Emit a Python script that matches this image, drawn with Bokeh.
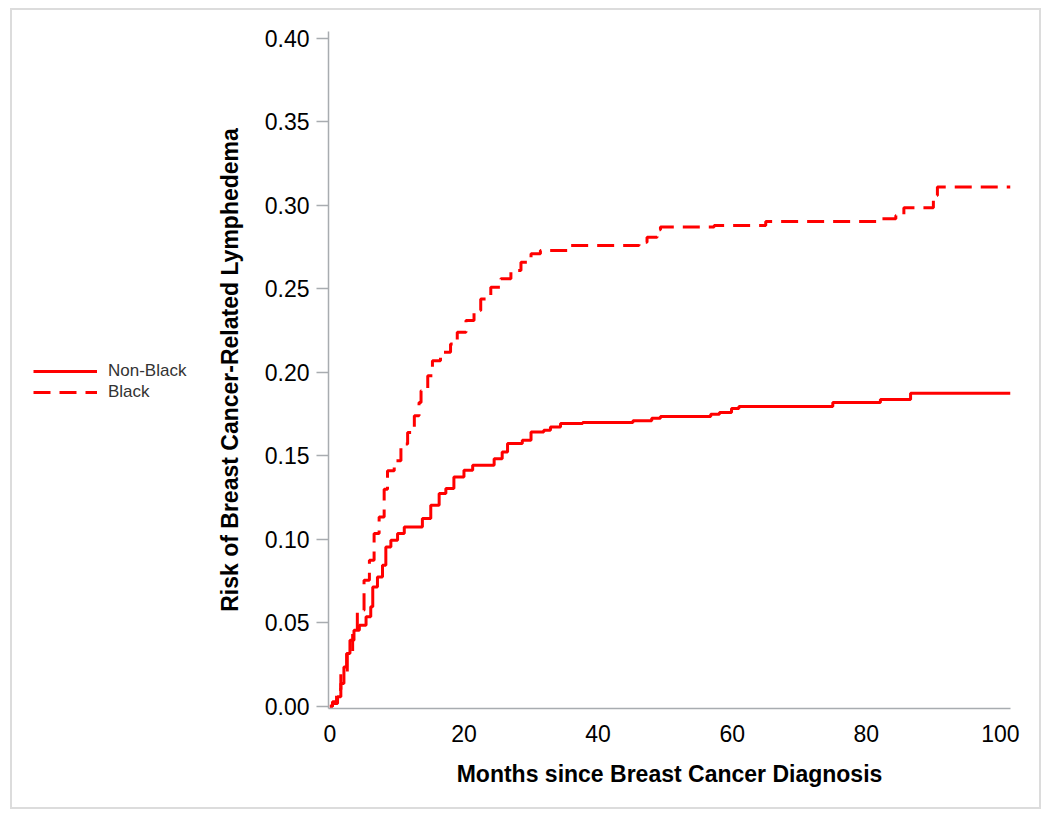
from bokeh.plotting import figure
from bokeh.layouts import row
from bokeh.models import Range1d, FixedTicker, NumeralTickFormatter, Legend, LegendItem
from bokeh.embed import file_html
from bokeh.resources import INLINE

# Cumulative risk of breast cancer-related lymphedema (step functions)
nonblack_months = [0, 0.4, 1.15, 1.64, 2.1, 2.5, 3.0, 3.6, 4.4, 5.4, 6.1, 6.4, 7.1, 7.85, 8.35,
                   9.1, 10.1, 11.1, 13.8, 15.05, 16.3, 17.3, 18.5, 20.0, 21.3, 24.5, 25.7, 26.5,
                   28.7, 30.0, 31.9, 32.9, 34.4, 37.7, 45.2, 48.0, 49.3, 56.8, 58.1, 59.9, 61.0,
                   75.0, 82.1, 86.6, 101.5]
nonblack_risk = [0, 0.0016, 0.0056, 0.0136, 0.0235, 0.0315, 0.0395, 0.0455, 0.0485, 0.0535,
                 0.0595, 0.0714, 0.0774, 0.0844, 0.0954, 0.0994, 0.1034, 0.1074, 0.1124, 0.1204,
                 0.1274, 0.1304, 0.1373, 0.1413, 0.1443, 0.1483, 0.1523, 0.1573, 0.1593, 0.1643,
                 0.1653, 0.1673, 0.1693, 0.1699, 0.171, 0.1725, 0.1735, 0.1749, 0.1759, 0.1784,
                 0.1795, 0.182, 0.1838, 0.1874, 0.1874]

black_months = [0, 0.4, 1.0, 1.64, 2.6, 3.4, 4.1, 5.1, 5.9, 6.6, 7.35, 8.1, 8.6, 9.6, 10.6,
                11.6, 12.6, 13.3, 13.6, 14.6, 15.3, 16.5, 18.0, 19.0, 20.3, 21.5, 22.5, 24.0,
                25.5, 27.0, 28.5, 30.0, 31.4, 35.4, 46.1, 47.3, 48.8, 49.3, 57.3, 65.0, 82.1,
                84.4, 85.6, 90.0, 90.6, 101.5]
black_risk = [0, 0.0026, 0.010, 0.020, 0.032, 0.0455, 0.0575, 0.0754, 0.0874, 0.1034, 0.1134,
              0.130, 0.141, 0.147, 0.157, 0.164, 0.174, 0.182, 0.189, 0.198, 0.207, 0.212,
              0.217, 0.224, 0.231, 0.237, 0.244, 0.251, 0.256, 0.261, 0.266, 0.271, 0.273,
              0.276, 0.278, 0.281, 0.2854, 0.287, 0.288, 0.2904, 0.292, 0.294, 0.2986, 0.306,
              0.311, 0.311]

x_ticks = [0, 20, 40, 60, 80, 100]
y_ticks = [0.0, 0.05, 0.10, 0.15, 0.20, 0.25, 0.30, 0.35, 0.40]
series_labels = ["Non-Black", "Black"]

FONT = "Liberation Sans"
RED = "#ff0000"
SOLID = dict(line_color=RED, line_width=3)
DASHED = dict(line_color=RED, line_width=3, line_dash="17 9")

# ---- main chart ----
p = figure(width=827, height=797, output_backend="svg", toolbar_location=None,
           x_range=Range1d(-0.2, 101.5), y_range=Range1d(-0.0014, 0.4042),
           min_border_left=116, min_border_right=29, min_border_top=21, min_border_bottom=99)
p.outline_line_color = None
p.xgrid.grid_line_color = None
p.ygrid.grid_line_color = None
p.background_fill_color = "white"
p.border_fill_color = "white"

r1 = p.step(nonblack_months, nonblack_risk, mode="after", **SOLID)
r2 = p.step(black_months, black_risk, mode="after", **DASHED)

p.xaxis.ticker = FixedTicker(ticks=x_ticks)
p.yaxis.ticker = FixedTicker(ticks=y_ticks)
p.yaxis.formatter = NumeralTickFormatter(format="0.00")
for ax in (p.xaxis[0], p.yaxis[0]):
    ax.axis_line_color = "#a8acb0"
    ax.axis_line_width = 1.5
    ax.major_tick_line_color = "#a8acb0"
    ax.major_tick_line_width = 1.5
    ax.minor_tick_line_color = None
    ax.major_label_text_font = FONT
    ax.major_label_text_font_size = "23px"
    ax.major_label_text_color = "#000000"
    ax.axis_label_text_font = FONT
    ax.axis_label_text_font_size = "23px"
    ax.axis_label_text_font_style = "bold"
    ax.axis_label_text_color = "#000000"
p.xaxis.major_tick_out = 0
p.xaxis.major_tick_in = 0
p.yaxis.major_tick_out = 12
p.yaxis.major_tick_in = 0
p.xaxis.major_label_standoff = 16
p.yaxis.major_label_standoff = 7
p.xaxis.axis_label = "Months since Breast Cancer Diagnosis"
p.yaxis.axis_label = "Risk of Breast Cancer-Related Lymphedema"
p.xaxis.axis_label_standoff = 16
p.yaxis.axis_label_standoff = 19

# ---- legend panel (left of the chart); its view window lies outside the data,
#      so the series only lend their line styles to the legend entries ----
lf = figure(width=200, height=797, output_backend="svg", toolbar_location=None,
            x_axis_type=None, y_axis_type=None,
            x_range=Range1d(500, 600), y_range=Range1d(5, 6),
            min_border_left=0, min_border_right=0, min_border_top=0, min_border_bottom=0)
lf.outline_line_color = None
lf.xgrid.grid_line_color = None
lf.ygrid.grid_line_color = None
lf.border_fill_color = "white"
lf.background_fill_color = "white"
lr1 = lf.step(nonblack_months, nonblack_risk, mode="after", **SOLID)
lr2 = lf.step(black_months, black_risk, mode="after", **DASHED)

legend = Legend(items=[LegendItem(label=series_labels[0], renderers=[lr1]),
                       LegendItem(label=series_labels[1], renderers=[lr2])],
                location=(21, 306), orientation="vertical")
legend.border_line_color = None
legend.background_fill_alpha = 0
legend.label_text_font = FONT
legend.label_text_font_size = "17px"
legend.label_text_color = "#333333"
legend.glyph_width = 64
legend.glyph_height = 20
legend.label_standoff = 11
legend.spacing = 1
legend.padding = 0
legend.margin = 0
lf.add_layout(legend, "center")

layout = row(lf, p, spacing=0)
layout.styles = {"border": "2px solid #dcdcdc", "margin-left": "10px", "margin-top": "8px"}

open("out.html", "w").write(file_html(layout, INLINE))
